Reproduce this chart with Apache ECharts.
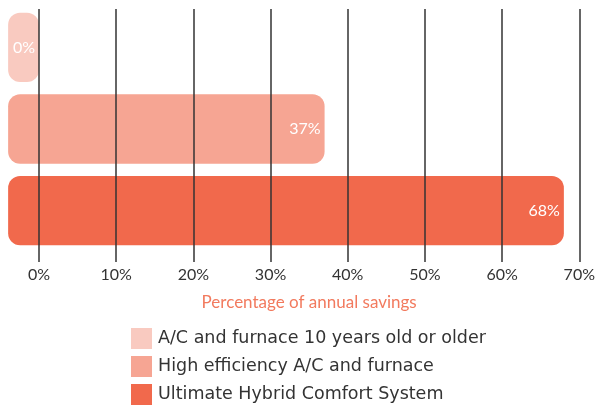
<!DOCTYPE html>
<html>
<head>
<meta charset="utf-8">
<script src="https://cdn.jsdelivr.net/npm/echarts@6/dist/echarts.min.js"></script>
<style>
html, body { margin: 0; padding: 0; background: #fff; }
#chart { width: 598px; height: 406px; }
</style>
</head>
<body>
<div id="chart"></div>
<script>
// system names (legend), top to bottom
var systems = ['A/C and furnace 10 years old or older', 'High efficiency A/C and furnace', 'Ultimate Hybrid Comfort System'];
// annual savings, percent
var savings = [0, 37, 68];
var colors = ['#f9cac0', '#f6a593', '#f1694c'];
// x axis ticks
var tickMin = 0, tickMax = 70, tickStep = 10;
var barStart = -4; // bars start a little left of 0%

var chart = echarts.init(document.getElementById('chart'));

function renderBar(params, api) {
	var y = api.value(0);
	var v = api.value(1);
	var a = api.coord([barStart, y]);
	var b = api.coord([v, y]);
	var h = api.size([0, 0.85])[1];
	var w = b[0] - a[0];
	var r = Math.min(12, w / 2);
	return {
		type: 'rect',
		shape: { x: a[0], y: a[1] - h / 2, width: w, height: h, r: r },
		style: { fill: api.visual('color') },
		textContent: {
			style: {
				text: v + '%',
				fill: '#fff',
				fontSize: 16,
				fontFamily: 'Lato, sans-serif'
			}
		},
		textConfig: { position: 'insideRight', distance: 4 }
	};
}

var series = [];
for (var i = 0; i < systems.length; i++) {
	series.push({
		name: systems[i],
		type: 'custom',
		clip: false,
		z: 2,
		itemStyle: { color: colors[i] },
		renderItem: renderBar,
		data: [[i, savings[i]]]
	});
}

var option = {
	animation: false,
	grid: { left: 39, right: 16, top: 9, bottom: 144 },
	legend: {
		orient: 'vertical',
		left: 131,
		top: 328,
		padding: 0,
		itemWidth: 21,
		itemHeight: 21,
		itemGap: 7,
		icon: 'rect',
		textStyle: { color: '#333', fontSize: 17.5, fontFamily: 'DejaVu Sans', padding: [0, 0, 0, 1] },
		data: systems
	},
	xAxis: {
		type: 'value',
		min: tickMin,
		max: tickMax,
		interval: tickStep,
		z: 10,
		axisLine: { show: false },
		axisTick: { show: false },
		splitLine: { show: true, lineStyle: { color: '#333', width: 1.5 } },
		axisLabel: {
			formatter: '{value}%',
			color: '#333',
			fontSize: 16,
			fontFamily: 'Lato, sans-serif',
			margin: 5
		},
		name: 'Percentage of annual savings',
		nameLocation: 'middle',
		nameGap: 32,
		nameTextStyle: { color: '#f27a5e', fontSize: 17, fontFamily: 'Lato, sans-serif' }
	},
	yAxis: {
		type: 'value',
		inverse: true,
		min: -0.47,
		max: 2.63,
		show: false
	},
	series: series
};
chart.setOption(option);
</script>
</body>
</html>
